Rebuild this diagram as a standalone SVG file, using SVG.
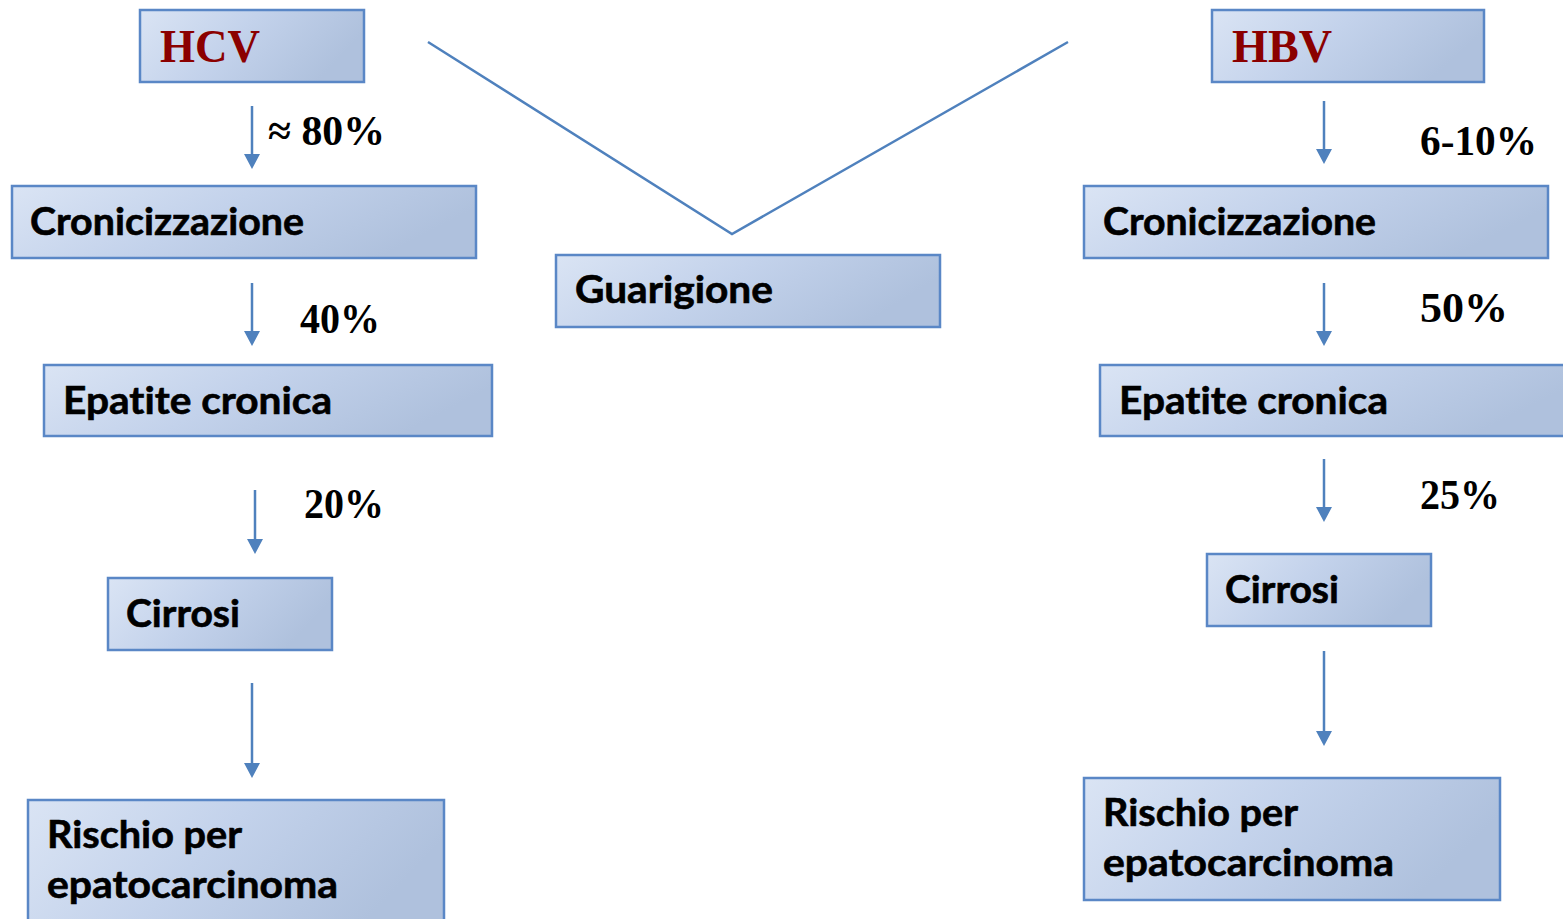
<svg xmlns="http://www.w3.org/2000/svg" width="1563" height="919" viewBox="0 0 1563 919">
<defs>
<linearGradient id="g" x1="0" y1="0" x2="1" y2="0.3">
<stop offset="0" stop-color="#dae4f4"/>
<stop offset="0.5" stop-color="#c3d2eb"/>
<stop offset="1" stop-color="#afc1dd"/>
</linearGradient>
</defs>
<style>
.box{fill:url(#g);stroke:#5a87c6;stroke-width:2.5}
.lbl{font-family:Lato,"Open Sans",sans-serif;font-weight:bold;font-size:38px;fill:#000;font-variant-ligatures:none;font-feature-settings:"liga" 0;stroke:#000;stroke-width:0.6}
.vir{font-family:"Liberation Serif",serif;font-weight:bold;font-size:46px;fill:#8b0000}
.pct{font-family:"Liberation Serif","DejaVu Serif",serif;font-weight:bold;font-size:42px;fill:#000}
.arr{stroke:#4f81bd;stroke-width:2.5;fill:none}
.hd{fill:#4f81bd}
</style>
<rect width="1563" height="919" fill="#fff"/>
<g id="connectors">
<polyline class="arr" points="428,42 732,234 1068,42"/>
<line class="arr" x1="252" y1="106" x2="252" y2="155"/><path class="hd" d="M244,154 L260,154 L252,169 Z"/>
<line class="arr" x1="252" y1="283" x2="252" y2="332"/><path class="hd" d="M244,331 L260,331 L252,346 Z"/>
<line class="arr" x1="255" y1="490" x2="255" y2="540"/><path class="hd" d="M247,539 L263,539 L255,554 Z"/>
<line class="arr" x1="252" y1="683" x2="252" y2="764"/><path class="hd" d="M244,763 L260,763 L252,778 Z"/>
<line class="arr" x1="1324" y1="101" x2="1324" y2="150"/><path class="hd" d="M1316,149 L1332,149 L1324,164 Z"/>
<line class="arr" x1="1324" y1="283" x2="1324" y2="332"/><path class="hd" d="M1316,331 L1332,331 L1324,346 Z"/>
<line class="arr" x1="1324" y1="459" x2="1324" y2="508"/><path class="hd" d="M1316,507 L1332,507 L1324,522 Z"/>
<line class="arr" x1="1324" y1="651" x2="1324" y2="732"/><path class="hd" d="M1316,731 L1332,731 L1324,746 Z"/>
</g>
<g id="pct-labels">
<text class="pct" x="268" y="145" textLength="117" lengthAdjust="spacingAndGlyphs">≈ 80%</text>
<text class="pct" x="300" y="333" textLength="80" lengthAdjust="spacingAndGlyphs">40%</text>
<text class="pct" x="304" y="518" textLength="80" lengthAdjust="spacingAndGlyphs">20%</text>
<text class="pct" x="1420" y="155" textLength="117" lengthAdjust="spacingAndGlyphs">6-10%</text>
<text class="pct" x="1420" y="322" textLength="88" lengthAdjust="spacingAndGlyphs">50%</text>
<text class="pct" x="1420" y="509" textLength="80" lengthAdjust="spacingAndGlyphs">25%</text>
</g>
<g id="hcv"><rect class="box" x="140" y="10" width="224" height="72"/><text class="vir" x="160" y="62" textLength="100" lengthAdjust="spacingAndGlyphs">HCV</text></g>
<g id="hbv"><rect class="box" x="1212" y="10" width="272" height="72"/><text class="vir" x="1232" y="62" textLength="100" lengthAdjust="spacingAndGlyphs">HBV</text></g>
<g id="guarigione"><rect class="box" x="556" y="255" width="384" height="72"/><text class="lbl" x="575" y="303" textLength="198" lengthAdjust="spacingAndGlyphs">Guarigione</text></g>
<g id="cron-l"><rect class="box" x="12" y="186" width="464" height="72"/><text class="lbl" x="30" y="235" textLength="274" lengthAdjust="spacingAndGlyphs">Cronicizzazione</text></g>
<g id="cron-r"><rect class="box" x="1084" y="186" width="464" height="72"/><text class="lbl" x="1103" y="235" textLength="273" lengthAdjust="spacingAndGlyphs">Cronicizzazione</text></g>
<g id="epat-l"><rect class="box" x="44" y="365" width="448" height="71"/><text class="lbl" x="63" y="414" textLength="269" lengthAdjust="spacingAndGlyphs">Epatite cronica</text></g>
<g id="epat-r"><rect class="box" x="1100" y="365" width="470" height="71"/><text class="lbl" x="1119" y="414" textLength="269" lengthAdjust="spacingAndGlyphs">Epatite cronica</text></g>
<g id="cirr-l"><rect class="box" x="108" y="578" width="224" height="72"/><text class="lbl" x="126" y="627" textLength="114" lengthAdjust="spacingAndGlyphs">Cirrosi</text></g>
<g id="cirr-r"><rect class="box" x="1207" y="554" width="224" height="72"/><text class="lbl" x="1225" y="603" textLength="114" lengthAdjust="spacingAndGlyphs">Cirrosi</text></g>
<g id="risk-l"><rect class="box" x="28" y="800" width="416" height="130"/><text class="lbl" x="47" y="848" textLength="195" lengthAdjust="spacingAndGlyphs">Rischio per</text><text class="lbl" x="47" y="898" textLength="291" lengthAdjust="spacingAndGlyphs">epatocarcinoma</text></g>
<g id="risk-r"><rect class="box" x="1084" y="778" width="416" height="122"/><text class="lbl" x="1103" y="826" textLength="195" lengthAdjust="spacingAndGlyphs">Rischio per</text><text class="lbl" x="1103" y="876" textLength="291" lengthAdjust="spacingAndGlyphs">epatocarcinoma</text></g>
</svg>
